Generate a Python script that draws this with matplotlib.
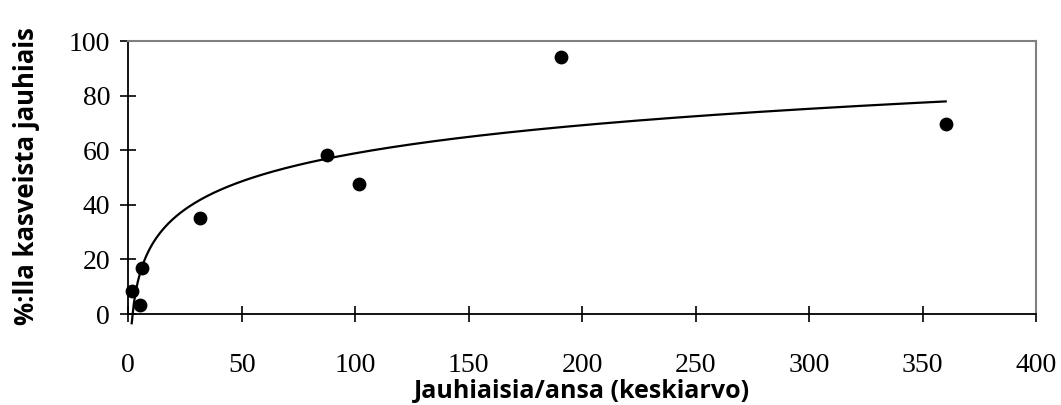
import numpy as np
import matplotlib
matplotlib.use("Agg")
import matplotlib.pyplot as plt

# Data
x_vals = [1.5, 5.3, 5.9, 31.6, 87.7, 101.8, 190.6, 360.2]
y_vals = [8.4, 3.2, 16.7, 35.0, 58.4, 47.7, 94.0, 69.6]
x_ticks = [0, 50, 100, 150, 200, 250, 300, 350, 400]
y_ticks = [0, 20, 40, 60, 80, 100]
x_label = "Jauhiaisia/ansa (keskiarvo)"
y_label = "%:lla kasveista jauhiais"

fig = plt.figure(figsize=(10.61, 4.05), dpi=100)
ax = fig.add_axes([128.3 / 1061, 1 - 314 / 405, (1036 - 128.3) / 1061, (314 - 41) / 405])

x = np.array(x_vals)
y = np.array(y_vals)

# logarithmic trend line fitted to the data (spans data range)
a, b = np.polyfit(np.log(x), y, 1)
xf = np.linspace(x.min(), x.max(), 400)
ax.plot(xf, a * np.log(xf) + b, color="black", lw=1.6, clip_on=False, zorder=2)

ax.scatter(x, y, s=80, color="black", zorder=3, clip_on=False)

ax.set_xlim(0, 400)
ax.set_ylim(0, 100)
ax.set_xticks(x_ticks)
ax.set_yticks(y_ticks)

serif = ["Liberation Serif", "DejaVu Serif"]
ax.set_xticklabels([str(v) for v in x_ticks], fontsize=20, family=serif)
ax.set_yticklabels([str(v) for v in y_ticks], fontsize=20, family=serif)
ax.tick_params(axis="both", direction="inout", length=12, width=1.2, color="black")
ax.tick_params(axis="x", pad=22)
ax.tick_params(axis="y", pad=7)

for side in ["left", "bottom"]:
    ax.spines[side].set_color("black")
    ax.spines[side].set_linewidth(1.3)
for side in ["top", "right"]:
    ax.spines[side].set_color("#808080")
    ax.spines[side].set_linewidth(1.5)

lab_font = ["Open Sans", "DejaVu Sans"]
ax.set_xlabel(x_label, fontsize=18, fontweight="bold", family=lab_font, va="baseline")
ax.set_ylabel(y_label, fontsize=18.5, fontweight="bold", family=lab_font, va="baseline")
ax.xaxis.set_label_coords(0.5, -0.308)
ax.yaxis.set_label_coords(-0.104, 0.505)

fig.savefig("out.png", dpi=100)
